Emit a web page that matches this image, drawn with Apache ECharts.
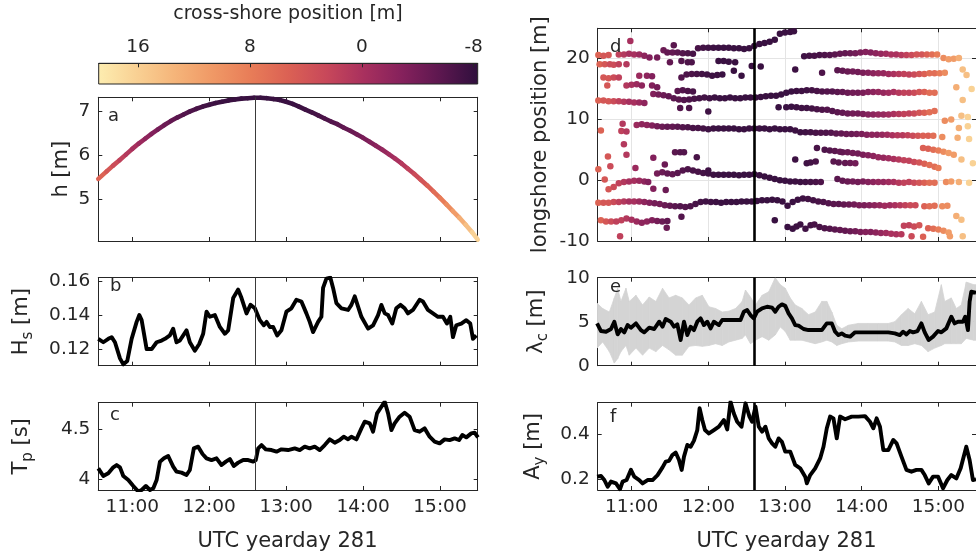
<!DOCTYPE html>
<html>
<head>
<meta charset="utf-8">
<script src="https://cdn.jsdelivr.net/npm/echarts@6/dist/echarts.min.js"></script>
<style>
html,body{margin:0;padding:0;background:#fff;}
#chart{width:976px;height:552px;}
</style>
</head>
<body>
<div id="chart"></div>
<script>
// Time is in minutes after 10:00 UTC, yearday 281.
const markTime = 156;

// Water depth h [m] with the instrument's cross-shore position [m] at each sample.
const tide = [[33.5,5.46,5.5],[40,5.63,4.2],[45,5.76,3.0],[50,5.88,1.8],[55,6.01,0.8],[60,6.14,-0.2],[65,6.26,-1.2],[70,6.37,-2.2],[75,6.48,-3.1],[80,6.58,-3.9],[85,6.68,-4.6],[90,6.77,-5.2],[95,6.85,-5.7],[100,6.92,-6.1],[105,6.99,-6.5],[110,7.05,-6.8],[115,7.10,-7.1],[120,7.14,-7.3],[125,7.18,-7.5],[130,7.21,-7.6],[135,7.24,-7.6],[140,7.26,-7.7],[145,7.28,-7.7],[150,7.29,-7.7],[155,7.30,-7.7],[160,7.30,-7.7],[165,7.29,-7.7],[170,7.27,-7.7],[175,7.25,-7.7],[180,7.21,-7.6],[185,7.16,-7.6],[190,7.10,-7.5],[195,7.03,-7.3],[200,6.97,-7.1],[205,6.90,-6.8],[210,6.83,-6.5],[215,6.76,-6.1],[220,6.70,-5.7],[225,6.62,-5.2],[230,6.55,-4.7],[235,6.47,-4.2],[240,6.39,-3.6],[245,6.30,-3.0],[250,6.21,-2.3],[255,6.12,-1.6],[260,6.02,-0.8],[265,5.92,0.0],[270,5.81,0.9],[275,5.69,1.9],[280,5.57,2.9],[285,5.44,4.0],[290,5.31,5.2],[295,5.17,6.5],[300,5.03,7.9],[305,4.88,9.4],[310,4.73,11.0],[315,4.58,12.7],[320,4.42,14.4],[325,4.25,16.2],[329.4,4.08,17.9]];

// Significant wave height Hs [m]
const hs = [[33.5,0.126],[37.4,0.124],[41.3,0.126],[43.9,0.127],[46.5,0.124],[50.4,0.1145],[53.0,0.111],[56.1,0.113],[59.5,0.126],[63.4,0.136],[65.5,0.140],[67.3,0.137],[71.2,0.120],[75.1,0.120],[79.0,0.124],[82.9,0.125],[85.5,0.126],[89.3,0.128],[91.9,0.132],[94.5,0.124],[97.1,0.125],[102.3,0.131],[104.9,0.124],[108.8,0.119],[112.2,0.123],[115.3,0.129],[117.9,0.142],[120.5,0.139],[124.4,0.140],[128.3,0.133],[132.2,0.129],[134.8,0.131],[138.7,0.150],[142.6,0.155],[145.2,0.150],[149.1,0.141],[152.2,0.146],[155.6,0.144],[159.5,0.137],[162.6,0.134],[164.7,0.136],[167.3,0.133],[169.9,0.133],[173.0,0.128],[176.3,0.131],[180.2,0.142],[184.1,0.144],[188.0,0.149],[191.9,0.148],[195.8,0.141],[198.4,0.136],[201.0,0.130],[204.9,0.136],[207.5,0.139],[208.8,0.156],[211.4,0.1615],[214.5,0.162],[216.6,0.156],[219.2,0.147],[223.1,0.144],[228.3,0.143],[230.9,0.146],[233.5,0.151],[236.1,0.145],[238.7,0.139],[243.9,0.132],[247.8,0.134],[251.7,0.140],[254.3,0.146],[256.9,0.141],[259.5,0.140],[262.8,0.135],[265.9,0.144],[269.1,0.146],[272.4,0.144],[275.0,0.141],[278.9,0.143],[284.1,0.149],[286.7,0.148],[290.6,0.143],[294.5,0.141],[298.4,0.139],[302.3,0.139],[305.4,0.135],[308.0,0.139],[310.1,0.127],[312.7,0.134],[316.6,0.135],[320.5,0.137],[323.6,0.135],[325.7,0.126],[328.3,0.128]];

// Peak wave period Tp [s]
const tp = [[33.5,4.11],[37.4,4.033],[41.3,4.06],[45.2,4.12],[47.8,4.143],[50.4,4.12],[53,4.033],[56.9,3.993],[60.8,3.933],[64.7,3.877],[67.3,3.893],[70.6,3.933],[73.8,3.893],[76.4,3.91],[79,3.993],[81.6,4.177],[84.7,4.21],[88,4.233],[91.9,4.127],[94.5,4.077],[98.4,4.067],[102.3,4.043],[104.9,4.093],[108,4.31],[111.4,4.327],[114.8,4.253],[117.9,4.21],[121.8,4.193],[125.7,4.21],[129.6,4.143],[133,4.177],[136.1,4.203],[139.2,4.133],[142.6,4.167],[146.5,4.193],[150.4,4.193],[154.3,4.177],[156.3,4.193],[158.2,4.31],[160.8,4.343],[164.1,4.3],[168.6,4.293],[172.5,4.277],[176.3,4.3],[181.5,4.293],[186.7,4.31],[190.6,4.293],[194.5,4.327],[198.4,4.31],[202.3,4.327],[206.2,4.293],[210.1,4.343],[214,4.4],[217.9,4.367],[221.8,4.393],[224.9,4.427],[228.3,4.4],[230.9,4.427],[234.8,4.4],[238.7,4.51],[241.3,4.577],[245.2,4.56],[247.8,4.477],[250.9,4.66],[254.3,4.727],[256.9,4.777],[259.5,4.66],[262.1,4.493],[264.6,4.56],[268.5,4.627],[272.4,4.667],[276.3,4.627],[280.2,4.493],[284.1,4.477],[288,4.51],[291.9,4.427],[295.8,4.377],[299.7,4.36],[303.6,4.4],[307.5,4.393],[311.4,4.41],[314.8,4.393],[317.4,4.443],[320.5,4.42],[324.4,4.46],[327,4.467],[329.6,4.42]];

// Crest spacing lambda_c [m]: median and spread [time, low, high]
const lambda = [[33,4.81],[36.1,3.94],[40,3.86],[43.9,4.17],[46.5,5.0],[49.1,3.56],[51.7,4.17],[54.3,3.79],[56.9,4.62],[59.5,4.32],[63.4,4.81],[67.3,4.05],[69.9,3.79],[73.8,4.32],[77.7,4.17],[81.6,5.0],[84.2,4.43],[86.7,5.3],[90.6,5.0],[93.2,4.43],[95.8,4.7],[98.4,2.92],[101,5.0],[103.6,3.48],[106.2,4.43],[108.8,4.05],[111.4,5.0],[114,5.38],[116.6,4.62],[119.2,5.0],[121.8,4.24],[124.4,5.0],[128.3,4.62],[130.9,5.19],[136.1,5.19],[141.3,5.19],[145.2,5.19],[147.8,6.14],[150.4,6.33],[153,5.76],[155.6,5.38],[158.2,6.14],[162.1,6.52],[166,6.7],[169.9,6.6],[172.4,6.14],[175,6.7],[177.6,6.97],[180.2,6.8],[182.8,5.95],[185.4,5.38],[188,4.62],[190.6,4.55],[194.5,4.17],[198.4,4.05],[203.6,4.05],[208.8,4.05],[212.7,4.81],[216.6,4.81],[219.2,3.86],[221.8,3.48],[224.4,3.67],[227,3.41],[230.9,3.3],[234.8,3.79],[240,3.79],[245.2,3.79],[250.4,3.79],[255.6,3.79],[260.8,3.79],[265.9,3.67],[269.8,3.48],[272.4,3.86],[275,3.56],[277.6,3.94],[280.2,3.79],[283.6,3.94],[286.7,4.81],[289.3,3.79],[292.4,2.92],[295.8,3.3],[299.7,3.94],[302.3,3.79],[306.2,4.24],[310.1,5.57],[312.7,4.81],[315.3,5.0],[319.2,5.0],[321,5.57],[323.1,4.05],[324.4,7.27],[325.7,8.4],[329.4,8.3]];
const lambdaSpread = [[33,2.0,7.1],[37.4,2.7,6.5],[42.6,1.6,6.1],[46.5,0.3,7.7],[49.1,0.8,8.8],[51.7,1.6,7.3],[55.6,2.3,8.8],[58.2,1.2,7.3],[63.4,2.0,8.0],[68.6,1.2,6.9],[73.8,2.0,7.8],[79,1.6,7.3],[84.2,2.3,8.8],[89.3,1.8,7.7],[94.5,1.2,8.0],[99.7,1.2,7.7],[104.9,2.2,6.9],[110.1,2.3,7.7],[115.3,2.2,8.0],[120.5,2.3,6.7],[125.7,2.5,6.5],[130.9,2.3,6.1],[136.1,2.7,6.2],[141.3,2.9,6.5],[146.5,3.1,7.3],[149.1,3.5,8.6],[153,2.5,7.8],[156.9,2.9,6.9],[162.1,3.3,8.0],[167.3,2.9,8.4],[172.4,3.5,10.0],[176.3,4.4,9.2],[180.2,3.9,8.8],[184.1,2.9,7.7],[188,2.9,6.9],[193.2,2.9,6.5],[198.4,2.7,5.8],[203.6,2.5,6.1],[208.8,2.7,7.3],[212.7,2.9,7.3],[216.6,2.7,6.1],[220.5,2.3,4.6],[224.4,2.5,4.2],[229.6,2.7,4.6],[237.4,2.8,4.8],[245.2,2.8,4.8],[253,2.8,4.8],[260.8,2.8,4.8],[265.9,2.7,5.0],[271.1,2.3,5.8],[276.3,2.3,6.5],[281.5,2.5,5.9],[286.7,2.3,7.3],[291.9,1.6,5.8],[297.1,2.0,6.1],[302.3,2.3,9.2],[304.9,2.5,7.3],[310.1,2.5,7.7],[314,2.5,6.5],[317.9,2.5,6.9],[321.8,3.1,9.5],[327.7,2.9,9.2],[329.4,2.9,9.2]];

// Crest amplitude A_y [m]
const ay = [[33,0.212],[36.1,0.215],[38.7,0.197],[41.3,0.167],[43.9,0.19],[47.8,0.182],[50.9,0.156],[53,0.19],[56.1,0.197],[59.5,0.242],[62.1,0.212],[66,0.197],[68.6,0.182],[72.5,0.197],[76.4,0.197],[80.3,0.219],[84.2,0.253],[86.7,0.279],[89.3,0.282],[91.9,0.308],[94.5,0.319],[97.1,0.286],[99.2,0.242],[101,0.301],[103.6,0.353],[106.2,0.345],[108.8,0.372],[111.4,0.419],[113.2,0.516],[115.3,0.464],[117.4,0.419],[120.5,0.404],[124.4,0.419],[128.3,0.434],[132.2,0.464],[134.8,0.422],[137.4,0.545],[140,0.493],[142.6,0.456],[146,0.434],[149.1,0.538],[152.2,0.479],[154.3,0.456],[156.9,0.523],[159.5,0.434],[162.1,0.412],[164.7,0.434],[167.3,0.382],[169.9,0.36],[172.4,0.345],[175,0.382],[177.6,0.367],[180.2,0.323],[184.1,0.323],[188,0.264],[191.9,0.249],[195.8,0.212],[197.1,0.182],[199.7,0.219],[203.6,0.249],[207.5,0.293],[210.1,0.345],[212.7,0.427],[215.3,0.479],[217.9,0.471],[220.5,0.382],[223.1,0.479],[227,0.467],[232.2,0.479],[237.4,0.479],[242.6,0.481],[246.5,0.456],[249.1,0.427],[251.7,0.471],[254.3,0.434],[256.9,0.33],[260.8,0.33],[264.7,0.375],[267.3,0.36],[271.1,0.301],[275,0.242],[278.9,0.234],[282.8,0.242],[286.7,0.242],[289.3,0.219],[292.4,0.182],[295.8,0.212],[299.7,0.212],[303.6,0.16],[307,0.197],[310.1,0.219],[314,0.204],[317.4,0.249],[321.8,0.345],[324.4,0.286],[327,0.197],[329.4,0.2]];

// Tracked crest positions [time, longshore position m]
const crest21 = [[34,20.6],[38,20.5],[42,20.6],[50,20.7],[54,20.7],[58,20.8],[62,20.7],[66,20.7],[70,20.5],[74,20.2],[80,20.2],[85,21.4],[88,21.0],[92,21.0],[96,21.0],[100,20.9],[104,20.9],[108,20.8],[112,21.7],[116,21.8],[120,21.8],[124,21.8],[128,21.8],[132,21.8],[136,21.8],[140,21.7],[144,21.7],[148,21.6],[152,21.7],[156,22.1],[160,22.4],[164,22.6],[168,22.8],[172,23.1],[176,24.1],[180,24.3],[184,24.4],[187,24.5],[195,20.4],[199,20.5],[203,20.5],[207,20.6],[211,20.6],[215,20.6],[219,20.7],[223,20.8],[227,20.9],[231,20.9],[235,20.9],[239,21.0],[243,21.1],[247,21.0],[251,20.9],[255,20.8],[259,20.8],[263,20.7],[267,20.7],[271,20.6],[275,20.6],[279,20.6],[283,20.7],[287,20.7],[291,20.7],[295,20.7],[299,20.7],[304,20.1],[308,19.9],[312,20.0],[316,20.1],[59,22.9],[93,22.2]];
const crest19 = [[35,19.1],[39,19.1],[43,19.1],[46,19.0],[50,19.1],[56,19.1],[90,19.4],[99,19.6],[104,19.4],[107,19.4],[128,19.6],[132,19.6],[136,19.5],[141,19.4],[154,18.8],[161,18.7],[188,18.2],[209,17.7]];
const crest17 = [[38,16.9],[42,16.8],[46,16.9],[50,16.9],[66,17.2],[72,17.2],[76,17.1],[99,16.9],[103,17.4],[107,17.5],[111,17.5],[115,17.5],[119,17.4],[123,17.2],[127,17.3],[131,17.4],[140,18.0],[146,17.2],[221,18.1],[225,18.0],[229,17.9],[233,17.9],[237,17.8],[241,17.7],[245,17.7],[249,17.6],[253,17.6],[257,17.6],[261,17.5],[265,17.5],[269,17.5],[273,17.5],[277,17.4],[281,17.4],[285,17.5],[289,17.5],[293,17.6],[297,17.6],[301,17.6],[305,17.7],[319,18.2],[322,17.3]];
const crest15 = [[41,15.6],[56,15.6],[60,15.7],[64,15.8],[68,15.6],[76,15.6],[80,15.3],[314,15.3],[326,15.0],[96,14.7],[100,14.8],[104,14.7],[108,14.6]];
const crest13 = [[34,13.1],[38,13.1],[42,13.0],[46,13.0],[50,13.0],[54,12.9],[58,12.9],[62,12.8],[66,12.8],[70,12.7],[77,14.2],[81,14.1],[85,14.0],[89,13.8],[93,13.5],[97,13.3],[101,13.2],[105,13.3],[109,13.4],[113,13.5],[117,13.6],[121,13.5],[125,13.6],[129,13.5],[133,13.5],[137,13.6],[141,13.5],[145,13.5],[149,13.6],[153,13.6],[157,13.6],[161,13.7],[165,13.8],[169,13.9],[173,13.9],[177,14.1],[181,14.4],[185,14.6],[189,14.7],[193,14.7],[197,14.8],[201,14.8],[205,14.7],[209,14.6],[213,14.6],[217,14.6],[221,14.5],[225,14.5],[229,14.4],[233,14.4],[237,14.4],[241,14.4],[245,14.5],[249,14.5],[253,14.5],[257,14.4],[261,14.4],[265,14.5],[269,14.4],[273,14.4],[277,14.4],[281,14.4],[285,14.5],[289,14.5],[293,14.4],[297,14.4],[319,13.2]];
const crest11 = [[98,11.9],[105,11.9],[120,11.3],[175,12.0],[181,12.0],[185,12.1],[189,12.0],[193,11.9],[197,11.9],[201,11.8],[205,11.7],[209,11.6],[213,11.6],[217,11.4],[221,11.2],[225,11.1],[229,11.0],[233,11.0],[237,11.0],[241,10.9],[245,10.8],[249,10.8],[253,10.8],[257,10.8],[261,10.8],[265,10.9],[269,10.9],[273,10.9],[277,11.0],[281,11.0],[285,11.1],[289,11.1],[293,11.2],[297,11.4],[305,9.8],[310,10.0],[318,10.6],[323,10.4]];
const crest8 = [[36,8.2],[53,9.3],[52,8.1],[56,8.0],[64,9.1],[68,9.2],[72,9.1],[76,9.0],[80,8.9],[84,8.8],[88,8.8],[92,8.8],[96,8.8],[100,8.7],[104,8.7],[108,8.6],[112,8.6],[116,8.5],[120,8.4],[124,8.5],[128,8.5],[132,8.5],[136,8.5],[140,8.5],[144,8.4],[148,8.4],[152,8.5],[156,8.5],[160,8.5],[164,8.5],[168,8.4],[172,8.5],[176,8.4],[180,8.4],[184,8.4],[188,8.2],[192,7.9],[196,7.9],[200,7.9],[204,7.8],[208,7.8],[212,7.8],[216,7.8],[220,7.7],[224,7.7],[228,7.6],[232,7.6],[236,7.6],[240,7.6],[244,7.5],[248,7.5],[252,7.5],[256,7.5],[260,7.5],[264,7.4],[268,7.4],[272,7.4],[276,7.4],[280,7.3],[284,7.3],[288,7.3],[292,7.3],[296,7.3],[303,7.1],[316,8.6],[323,8.9],[315,7.0],[324,6.8]];
const crest4 = [[54,5.9],[56,4.2],[41.5,3.9],[43.4,2.3],[63,2.0],[77,3.7],[86,2.6],[94,4.6],[98,4.6],[101,4.6],[111,3.8],[120,1.6],[188,3.4],[197,2.8],[200,2.9],[204,3.1],[205,5.3],[211,5.0],[215,4.9],[219,4.8],[223,4.7],[218,3.1],[222,2.9],[227,2.85],[231,2.85],[235,2.8],[225,4.6],[229,4.6],[233,4.5],[237,4.4],[241,4.2],[245,4.1],[249,4.0],[253,3.8],[257,3.7],[261,3.6],[265,3.5],[269,3.4],[273,3.3],[277,3.2],[281,3.0],[285,2.9],[289,2.7],[293,2.5],[297,2.2],[300,2.0],[288,5.3],[292,5.2],[296,5.0],[300,4.9],[304,4.7],[308,4.5],[312,4.2],[318,3.4],[327,2.8]];
const crest0 = [[34,1.8],[39,0.1],[42,-1.5],[46,-1.1],[50,-0.5],[54,-0.3],[58,-0.2],[62,-0.1],[66,-0.1],[70,-0.2],[73,-0.3],[77,-1.4],[80,1.1],[84,1.3],[88,1.1],[92,1.0],[96,1.2],[100,1.6],[104,1.8],[108,1.6],[112,1.4],[116,1.2],[120,1.1],[124,0.9],[128,0.9],[132,0.9],[136,0.9],[140,0.9],[144,0.8],[148,0.9],[152,0.9],[156,1.0],[160,0.8],[164,0.6],[168,0.4],[172,0.2],[176,0.0],[180,-0.1],[184,-0.2],[188,-0.2],[192,-0.3],[196,-0.3],[200,-0.3],[204,-0.3],[208,-0.3],[221,0.2],[225,-0.1],[229,-0.2],[233,-0.2],[237,-0.3],[241,-0.2],[245,-0.3],[249,-0.3],[253,-0.3],[257,-0.3],[261,-0.3],[265,-0.3],[269,-0.4],[273,-0.4],[277,-0.3],[281,-0.4],[285,-0.4],[289,-0.4],[293,-0.4],[297,-0.4],[306,-0.3],[310,-0.2],[316,-0.3],[324,-0.4],[86.7,-1.6]];
const crestM4 = [[34,-3.7],[38,-3.7],[42,-3.7],[46,-3.6],[50,-3.6],[54,-3.5],[58,-3.5],[62,-3.5],[66,-3.5],[70,-3.6],[74,-3.7],[78,-3.8],[82,-3.9],[86,-4.1],[90,-4.2],[94,-4.3],[98,-4.3],[102,-4.4],[106,-4.3],[110,-3.9],[114,-3.6],[118,-3.5],[122,-3.6],[126,-3.6],[130,-3.7],[134,-3.6],[138,-3.6],[142,-3.6],[146,-3.5],[150,-3.5],[154,-3.5],[158,-3.4],[162,-3.3],[166,-3.3],[170,-3.2],[174,-3.3],[178,-3.5],[182,-4.2],[186,-3.6],[190,-3.2],[194,-3.0],[198,-3.1],[202,-3.3],[206,-3.5],[210,-3.6],[214,-3.8],[218,-3.9],[222,-3.9],[226,-4.0],[230,-4.0],[234,-4.0],[238,-4.1],[242,-4.1],[246,-4.1],[250,-4.1],[254,-4.1],[258,-4.2],[262,-4.1],[266,-4.1],[270,-4.1],[274,-4.1],[278,-4.1],[282,-4.1],[289,-4.3],[293,-4.3],[297,-4.2],[303,-4.3],[307,-4.2]];
const crestM7 = [[36,-6.6],[40,-6.8],[44,-6.8],[48,-6.8],[52,-6.6],[56,-6.3],[60,-6.5],[64,-6.8],[68,-7.0],[72,-6.8],[76,-6.6],[80,-6.7],[84,-6.8],[88,-6.7],[51,-9.2],[87.5,-7.8],[99,-6.0],[172,-6.6],[182,-7.7],[186,-8.0],[189,-7.6],[192,-7.3],[196,-8.0],[200,-7.4],[203,-7.3],[207,-7.7],[211,-7.9],[215,-8.0],[219,-8.1],[223,-8.2],[227,-8.3],[231,-8.4],[235,-8.4],[239,-8.5],[243,-8.5],[247,-8.5],[251,-8.6],[255,-8.7],[259,-8.7],[263,-8.8],[267,-8.9],[271,-8.9],[273,-7.5],[277,-7.4],[281,-7.6],[285,-7.4],[279,-9.2],[288,-9.3],[292,-7.9],[296,-8.0],[300,-8.1],[304,-8.3],[308,-8.6],[314,-5.9],[318,-6.5],[309,-9.2],[319,-9.2]];

const FONT = "'DejaVu Sans', sans-serif";
const INK = '#262626';
const TICK_SIZE = 18.5, LABEL_SIZE = 21;
const X_MIN = 33.5, X_MAX = 329.4;
const CROSS_MIN = -8.29, CROSS_MAX = 18.81;
// light -> dark colour ramp for cross-shore position
const ramp = ['#FDEDB0','#F9D194','#F5B57A','#F09966','#E87D58','#DB6154','#C8485A','#A8305E','#85215C','#5C174F','#2F0F3D'];

const PANEL_W = 379.4;
const boxes = [
  {left: 98.3, top: 97.3, height: 143.7},   // a
  {left: 98.3, top: 277.7, height: 88},     // b
  {left: 98.3, top: 402.7, height: 87.3},   // c
  {left: 597.7, top: 28.3, height: 212.7},  // d
  {left: 597.7, top: 277.7, height: 88},    // e
  {left: 597.7, top: 402.7, height: 87.3}   // f
];
const cbar = {left: 98.7, top: 63.3, width: 379, height: 20.7};

function crossAt(m) {
  let best = tide[0];
  for (const p of tide) if (Math.abs(p[0] - m) < Math.abs(best[0] - m)) best = p;
  return best[2];
}
function clockLabel(v) {
  const t = Math.round(v);
  const hh = 10 + Math.floor(t / 60), mm = t % 60;
  return hh + ':' + (mm < 10 ? '0' : '') + mm;
}
function ticks() {
  return {show: true, inside: true, length: 4, lineStyle: {color: INK, width: 1}};
}
function line() {
  return {show: true, onZero: false, lineStyle: {color: INK, width: 1}};
}
function timeAxis(g, pos, labels, grid) {
  return {
    type: 'value', gridIndex: g, position: pos, min: X_MIN, max: X_MAX,
    minInterval: 60, maxInterval: 60,
    axisLine: line(), axisTick: ticks(),
    axisLabel: {show: labels, margin: 8, fontSize: TICK_SIZE, fontFamily: FONT, color: INK,
      showMinLabel: false, showMaxLabel: false, formatter: clockLabel},
    splitLine: {show: !!grid, lineStyle: {color: '#e4e4e4', width: 1}}
  };
}
function valAxis(g, pos, lo, hi, step, labels, fmt, showMin, showMax, grid) {
  return {
    type: 'value', gridIndex: g, position: pos, min: lo, max: hi,
    minInterval: step, maxInterval: step,
    axisLine: line(), axisTick: ticks(),
    axisLabel: {show: labels, margin: 8, fontSize: TICK_SIZE, fontFamily: FONT, color: INK,
      showMinLabel: showMin, showMaxLabel: showMax, formatter: fmt},
    splitLine: {show: !!grid, lineStyle: {color: '#e4e4e4', width: 1}}
  };
}
const fmtInt = v => String(Math.round(v));
const fmt2 = v => v.toFixed(2);
const fmtG = v => String(Math.round(v * 100) / 100);

const grids = boxes.map(b => ({left: b.left, top: b.top, width: PANEL_W, height: b.height}));
grids.push({left: cbar.left, top: cbar.top, width: cbar.width, height: cbar.height});

const xAxes = [], yAxes = [];
const yDefs = [
  [4.05, 7.31, 1, fmtInt, false, false, false],
  [0.1102, 0.162, 0.02, fmt2, false, false, false],
  [3.893, 4.767, 0.5, fmtG, false, false, false],
  [-10, 25, 10, fmtInt, true, false, true],
  [0, 10, 5, fmtInt, true, true, false],
  [0.1526, 0.5407, 0.2, fmtG, false, false, false]
];
for (let g = 0; g < 6; g++) {
  const d = yDefs[g];
  xAxes.push(timeAxis(g, 'bottom', g === 2 || g === 5, g === 3));
  xAxes.push(timeAxis(g, 'top', false, false));
  yAxes.push(valAxis(g, 'left', d[0], d[1], d[2], true, d[3], d[4], d[5], d[6]));
  yAxes.push(valAxis(g, 'right', d[0], d[1], d[2], false, d[3], d[4], d[5], false));
}
// colour bar scale
xAxes.push({
  type: 'value', gridIndex: 6, position: 'top', inverse: true,
  min: CROSS_MIN, max: CROSS_MAX, minInterval: 8, maxInterval: 8,
  axisLine: line(), axisTick: ticks(),
  axisLabel: {show: true, margin: 7, fontSize: TICK_SIZE, fontFamily: FONT, color: INK,
    showMinLabel: false, showMaxLabel: false, formatter: fmtInt},
  splitLine: {show: false}
});
yAxes.push({type: 'value', gridIndex: 6, show: false, min: 0, max: 1});

function marker(color, width) {
  return {silent: true, symbol: ['none', 'none'], label: {show: false}, animation: false,
    lineStyle: {color: color, width: width, type: 'solid'}, data: [{xAxis: markTime}]};
}
function blackLine(g, data, extra) {
  return Object.assign({
    type: 'line', xAxisIndex: 2 * g, yAxisIndex: 2 * g, data: data,
    showSymbol: false, symbol: 'none', animation: false, z: 3,
    lineStyle: {color: '#000', width: 3.9, join: 'round'}
  }, extra || {});
}

const tideSegments = tide.slice(0, -1).map((p, i) => [p[0], p[1], p[2], tide[i + 1][0], tide[i + 1][1]]);
const spreadQuads = lambdaSpread.slice(0, -1).map((p, i) =>
  [p[0], p[1], p[2], lambdaSpread[i + 1][0], lambdaSpread[i + 1][1], lambdaSpread[i + 1][2]]);
const crestPoints = [crest21, crest19, crest17, crest15, crest13, crest11, crest8, crest4, crest0, crestM4, crestM7]
  .flat().map(p => [p[0], p[1], crossAt(p[0])]);

const series = [
  {
    type: 'custom', xAxisIndex: 0, yAxisIndex: 0, data: tideSegments, animation: false,
    encode: {x: 0, y: 1},
    renderItem: function (params, api) {
      const a = api.coord([api.value(0), api.value(1)]);
      const b = api.coord([api.value(3), api.value(4)]);
      return {type: 'line', shape: {x1: a[0], y1: a[1], x2: b[0], y2: b[1]},
        style: {stroke: api.visual('color'), lineWidth: 4.6, lineCap: 'round'}};
    }
  },
  {type: 'line', xAxisIndex: 0, yAxisIndex: 0, data: [], markLine: marker('#3a3a3a', 1)},
  blackLine(1, hs, {markLine: marker('#3a3a3a', 1)}),
  blackLine(2, tp, {markLine: marker('#3a3a3a', 1)}),
  {
    type: 'scatter', xAxisIndex: 6, yAxisIndex: 6, data: crestPoints, animation: false,
    symbol: 'circle', symbolSize: 6.5, itemStyle: {opacity: 1},
    markLine: marker('#000', 2.6)
  },
  {
    type: 'custom', xAxisIndex: 8, yAxisIndex: 8, data: spreadQuads, animation: false,
    encode: {x: 0, y: 1}, clip: true, z: 1,
    renderItem: function (params, api) {
      const p1 = api.coord([api.value(0), api.value(1)]);
      const p2 = api.coord([api.value(0), api.value(2)]);
      const p3 = api.coord([api.value(3), api.value(5)]);
      const p4 = api.coord([api.value(3), api.value(4)]);
      return {type: 'polygon', shape: {points: [p1, p2, p3, p4]},
        style: {fill: '#d4d4d4', stroke: '#d4d4d4', lineWidth: 0.8}};
    }
  },
  blackLine(4, lambda, {markLine: marker('#000', 2.6)}),
  blackLine(5, ay, {markLine: marker('#000', 2.6)})
];

function yTitle(x, y, main) {
  return {type: 'text', x: x, y: y, rotation: Math.PI / 2, z: 10,
    style: {text: main, align: 'center', verticalAlign: 'middle', fill: INK,
      fontFamily: FONT, fontSize: LABEL_SIZE,
      rich: {
        b: {fontSize: LABEL_SIZE, fontFamily: FONT, fill: INK, lineHeight: 27},
        s: {fontSize: 15, fontFamily: FONT, fill: INK, lineHeight: 15, verticalAlign: 'bottom'}
      }}};
}
function plainText(x, y, txt, size, align) {
  return {type: 'text', x: x, y: y, z: 10,
    style: {text: txt, align: align || 'center', verticalAlign: 'middle', fill: INK,
      fontFamily: FONT, fontSize: size}};
}

const graphics = [
  {type: 'rect', x: cbar.left, y: cbar.top, z: -1,
    shape: {width: cbar.width, height: cbar.height},
    style: {fill: new echarts.graphic.LinearGradient(0, 0, 1, 0,
      ramp.map((c, i) => ({offset: i / (ramp.length - 1), color: c}))), stroke: INK, lineWidth: 1}},
  plainText(288, 14.5, 'cross-shore position [m]', 19),
  plainText(287.5, 541.5, 'UTC yearday 281', LABEL_SIZE),
  plainText(786.5, 541.5, 'UTC yearday 281', LABEL_SIZE),
  yTitle(62, 169.2, '{b|h [m]}'),
  yTitle(22, 321.7, '{b|H}{s|s}{b| [m]}'),
  yTitle(22, 446.4, '{b|T}{s|p}{b| [s]}'),
  yTitle(541, 134.7, '{b|longshore position [m]}'),
  yTitle(537, 321.7, '{b|λ}{s|c}{b| [m]}'),
  yTitle(534, 446.4, '{b|A}{s|y}{b| [m]}'),
  plainText(108, 116.8, 'a', 18, 'left'),
  plainText(110, 286.8, 'b', 18, 'left'),
  plainText(110, 415.5, 'c', 18, 'left'),
  plainText(610, 47.8, 'd', 18, 'left'),
  plainText(610, 287.1, 'e', 18, 'left'),
  plainText(610, 417.1, 'f', 18, 'left')
];

const chart = echarts.init(document.getElementById('chart'), null, {renderer: 'canvas'});
chart.setOption({
  animation: false,
  backgroundColor: '#ffffff',
  textStyle: {fontFamily: FONT},
  grid: grids,
  xAxis: xAxes,
  yAxis: yAxes,
  visualMap: {
    type: 'continuous', show: false, min: CROSS_MIN, max: CROSS_MAX, dimension: 2,
    seriesIndex: [0, 4], inRange: {color: ramp.slice().reverse()}
  },
  series: series,
  graphic: graphics
});
</script>
</body>
</html>
